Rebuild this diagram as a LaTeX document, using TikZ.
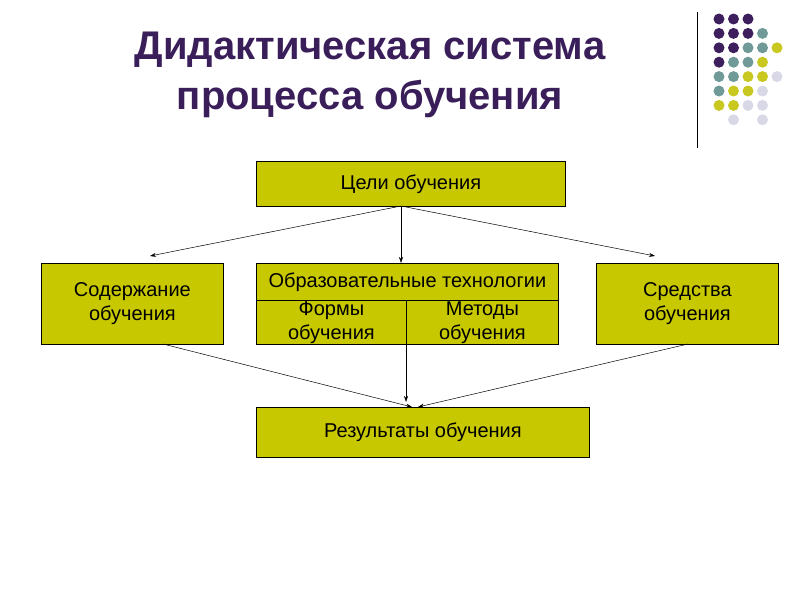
\documentclass[tikz,border=0pt]{standalone}
\usepackage{fontspec}
\setmainfont{Liberation Sans}
\usetikzlibrary{arrows.meta}
\definecolor{boxy}{HTML}{C8C800}
\definecolor{ttl}{HTML}{3A1E5A}
\definecolor{dP}{HTML}{3D1F5E}
\definecolor{dT}{HTML}{6F9A98}
\definecolor{dY}{HTML}{C8C820}
\definecolor{dL}{HTML}{D8D8E6}
\begin{document}
\begin{tikzpicture}[x=1pt,y=-1pt,
  bx/.style={draw=black,fill=boxy,line width=0.8pt,inner sep=0pt},
  lbl/.style={font=\fontsize{20}{24}\selectfont,align=center},
  con/.style={line width=0.5pt,-{Stealth[length=6pt,width=4pt]}}]
\useasboundingbox (0,0) rectangle (800,600);
\fill[white] (0,0) rectangle (800,600);
\node[font=\bfseries\fontsize{40}{50}\selectfont,text=ttl,align=center] (title) at (370,75) {Дидактическая система\\процесса обучения};
\draw[line width=0.8pt] (697,12) -- (697,148);
\def\dot#1#2#3{\fill[#3] (719+14.5*#1,19+14.4*#2) circle (5.5);}
\dot00{dP}\dot10{dP}\dot20{dP}
\dot01{dP}\dot11{dP}\dot21{dP}\dot31{dT}
\dot02{dP}\dot12{dP}\dot22{dT}\dot32{dT}\dot42{dY}
\dot03{dP}\dot13{dT}\dot23{dT}\dot33{dY}
\dot04{dT}\dot14{dT}\dot24{dY}\dot34{dY}\dot44{dL}
\dot05{dT}\dot15{dY}\dot25{dY}\dot35{dL}
\dot06{dY}\dot16{dY}\dot26{dL}\dot36{dL}
\dot17{dL}\dot37{dL}
\node[bx,lbl,minimum width=309,minimum height=45,anchor=north west] (goal) at (256,161) {Цели обучения};
\node[bx,lbl,minimum width=182,minimum height=81,anchor=north west] (cont) at (41,263) {Содержание\\обучения};
\node[bx,lbl,minimum width=182,minimum height=81,anchor=north west] (means) at (596,263) {Средства\\обучения};
\node[bx,lbl,minimum width=150,minimum height=44,anchor=north west] (forms) at (256,300) {Формы\\обучения};
\node[bx,lbl,minimum width=152,minimum height=44,anchor=north west] (meth) at (406,300) {Методы\\обучения};
\node[bx,lbl,minimum width=302,minimum height=37,anchor=north west] (tech) at (256,263) {Образовательные технологии};
\node[bx,lbl,minimum width=333,minimum height=50,anchor=north west] (res) at (256,407) {Результаты обучения};
\coordinate (g0) at (401,206);
\coordinate (c1) at (150,256);
\coordinate (m1) at (655,256);
\draw[con] (g0) -- (c1);
\draw[con] (g0) -- (tech.north -| g0);
\draw[con] (g0) -- (m1);
\coordinate (cb) at (163,344);
\coordinate (mb) at (688,344);
\coordinate (fb) at (406,344);
\draw[con] (cb) -- (412,407);
\draw[con] (fb) -- (406,402);
\draw[con] (mb) -- (418,407);
\end{tikzpicture}
\end{document}
